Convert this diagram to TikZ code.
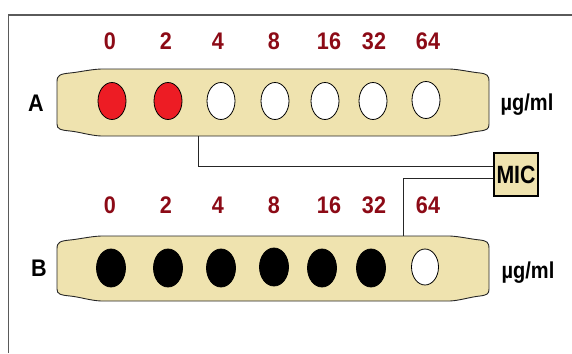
\documentclass[tikz,border=0pt]{standalone}
\usepackage{fontspec}
\setmainfont{Liberation Sans}
\newfontfamily\narrowf{Liberation Sans}[FakeStretch=0.87]
\newfontfamily\digf{Liberation Sans}[FakeStretch=0.9]
\newfontfamily\micf{Liberation Sans}[FakeStretch=0.85]
\usetikzlibrary{shapes.geometric}
\definecolor{beige}{RGB}{239,227,175}
\definecolor{numred}{RGB}{140,10,22}
\definecolor{holered}{RGB}{237,28,36}
\definecolor{framegray}{RGB}{90,90,90}
\newcommand{\stripshape}[2]{% #1 top, #2 bottom
  \filldraw[stripline] (57,#1+13) .. controls (57,#1+6) and (60,#1+5) .. (70,#1+4)
    .. controls (80,#1+3) and (90,#1+0.5) .. (101,#1) -- (450,#1)
    .. controls (460,#1+0.5) and (470,#1+3) .. (480,#1+4)
    .. controls (487,#1+5) and (489,#1+6) .. (489,#1+13)
    -- (489,#2-12) .. controls (489,#2-7) and (487,#2-6) .. (480,#2-5)
    .. controls (470,#2-4) and (460,#2-0.5) .. (450,#2) -- (101,#2)
    .. controls (90,#2-0.5) and (80,#2-4) .. (70,#2-5)
    .. controls (60,#2-6) and (57,#2-7) .. (57,#2-12) -- cycle;}
\begin{document}
\begin{tikzpicture}[x=1pt,y=-1pt,
  stripline/.style={fill=beige,draw=black!85,line width=0.9pt},
  hole/.style={ellipse,draw=black,line width=0.8pt,inner sep=0pt,minimum width=28pt,minimum height=37pt},
  redhole/.style={hole,fill=holered},
  whitehole/.style={hole,fill=white},
  blackhole/.style={hole,fill=black,minimum width=29pt,minimum height=38pt},
  num/.style={anchor=base,inner sep=0pt,text=numred,font=\fontsize{24}{24}\digf\bfseries},
  rowlab/.style={anchor=base,inner sep=0pt,font=\fontsize{24}{24}\digf\bfseries},
  unit/.style={anchor=base,inner sep=0pt,font=\fontsize{23}{23}\narrowf\bfseries},
  conn/.style={draw=black!85,line width=1pt}]
\useasboundingbox (0,0) rectangle (572,353);
% frame
\draw[framegray,line width=1.5pt] (8.5,353) -- (8.5,15) -- (572,15);
% strips
\stripshape{69}{136}
\stripshape{236}{301}
% numbers row A
\foreach \v/\x [count=\i] in {0/110,2/166,4/218,8/274,16/329,32/374,64/428}
  \node[num] (na\i) at (\x,49) {\v};
% numbers row B
\foreach \v/\x [count=\i] in {0/110,2/166,4/218,8/274,16/329,32/374,64/428}
  \node[num] (nb\i) at (\x,213) {\v};
% holes row A
\node[redhole] (a1) at (112,101) {};
\node[redhole] (a2) at (168,101) {};
\node[whitehole] (a3) at (221,101) {};
\node[whitehole] (a4) at (275,101) {};
\node[whitehole] (a5) at (325,101) {};
\node[whitehole] (a6) at (373,101) {};
\node[whitehole] (a7) at (426,100) {};
% holes row B
\node[blackhole] (b1) at (111,268) {};
\node[blackhole] (b2) at (168,268) {};
\node[blackhole] (b3) at (221,268) {};
\node[blackhole] (b4) at (274,267) {};
\node[blackhole] (b5) at (322,268) {};
\node[blackhole] (b6) at (371,268) {};
\node[whitehole,minimum width=27pt,minimum height=36pt] (b7) at (425,267) {};
% row labels
\node[rowlab] (la) at (36,111) {A};
\node[rowlab] (lb) at (39,276) {B};
\node[unit] (ua) at (527,110) {µg/ml};
\node[unit] (ub) at (528,278) {µg/ml};
% MIC box
\node[draw=black,line width=1.2pt,fill=beige,minimum width=44pt,minimum height=43pt,inner sep=0pt,
  font=\fontsize{25}{25}\micf\bfseries] (mic) at (516,174.5) {MIC};
% connectors
\coordinate (aconn) at (198,136);
\coordinate (bconn) at (403,236);
\draw[conn] (aconn) |- ([yshift=8.5pt]mic.west);
\draw[conn] ([yshift=-4pt]mic.west) -| (bconn);
\end{tikzpicture}
\end{document}
